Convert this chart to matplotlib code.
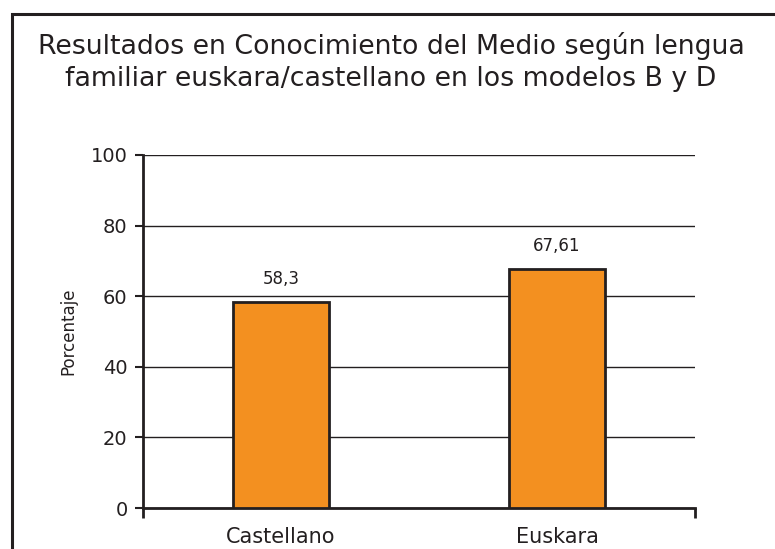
import matplotlib
matplotlib.use('Agg')
import matplotlib.pyplot as plt
from matplotlib.patches import Rectangle

# Data
categories = ['Castellano', 'Euskara']
values = [58.3, 67.61]
value_labels = ['58,3', '67,61']
yticks = [0, 20, 40, 60, 80, 100]

title = ('Resultados en Conocimiento del Medio según lengua\n'
         'familiar euskara/castellano en los modelos B y D')

ink = '#231f20'
orange = '#f39020'

plt.rcParams['font.family'] = ['DejaVu Sans']

fig = plt.figure(figsize=(7.75, 5.49), dpi=100)
ax = fig.add_axes([143 / 775, 41 / 549, 552 / 775, 353 / 549])

x = list(range(len(categories)))
ax.bar(x, values, width=0.35, color=orange, edgecolor=ink, linewidth=2,
       zorder=3)
for xi, v, lab in zip(x, values, value_labels):
    ax.annotate(lab, (xi, v), xytext=(0, 13), textcoords='offset points',
                ha='center', va='baseline', fontsize=12, color=ink)

ax.set_xlim(-0.5, len(categories) - 0.5)
ax.set_ylim(0, 100)
ax.set_yticks(yticks)
ax.set_yticklabels([str(t) for t in yticks], fontsize=14, color=ink)
ax.yaxis.grid(True, color=ink, linewidth=1, zorder=0)
ax.tick_params(axis='y', direction='out', length=6, width=1.5, color=ink,
               pad=5)

# boundary ticks on the category axis, labels at the centres
ax.set_xticks([-0.5, len(categories) - 0.5])
ax.set_xticklabels(['', ''])
ax.tick_params(axis='x', which='major', direction='out', length=7.5,
               width=2, color=ink)
ax.set_xticks(x, minor=True)
ax.set_xticklabels(categories, minor=True, fontsize=15, color=ink)
ax.tick_params(axis='x', which='minor', length=0, pad=14)

for side in ['top', 'right']:
    ax.spines[side].set_visible(False)
for side in ['left', 'bottom']:
    ax.spines[side].set_color(ink)
    ax.spines[side].set_linewidth(2)

ax.set_ylabel('Porcentaje', fontsize=12, color=ink, labelpad=10)

fig.text(391 / 775, 1 - 62 / 549, title, ha='center', va='center',
         fontsize=19.3, color=ink, linespacing=1.3)

# outer frame, running past the right and bottom edges as in the reference
fig.patches.append(Rectangle((11.5 / 775, -0.1), 1.0, 1.1 - 14 / 549,
                             transform=fig.transFigure, fill=False,
                             edgecolor=ink, linewidth=2.2))

plt.savefig('out.png', dpi=100)
plt.close()
